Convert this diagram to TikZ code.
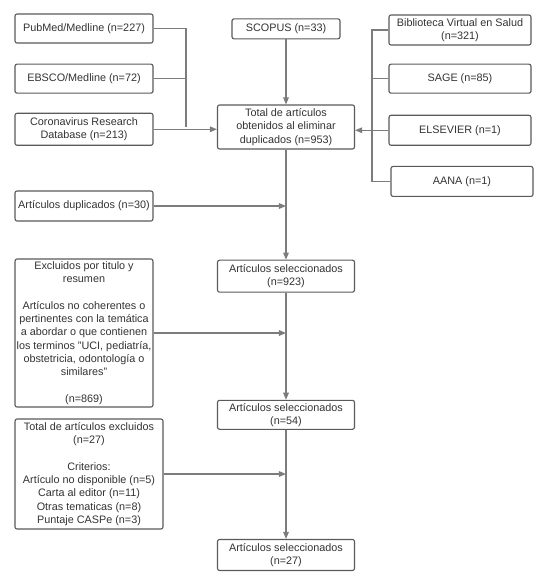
\documentclass[tikz,border=0pt]{standalone}
\usepackage{fontspec}
\setmainfont{Liberation Sans}
\usepackage{xcolor}
\usetikzlibrary{arrows.meta, positioning}
\definecolor{boxline}{HTML}{5A5A5A}
\definecolor{arrline}{HTML}{7C7C7C}
\definecolor{txtcol}{HTML}{333333}

\begin{document}
\begin{tikzpicture}[
    x=0.025cm, y=-0.025cm,
    font=\fontsize{7.7pt}{9.45pt}\selectfont,
    base/.style={draw=boxline, line width=0.8pt, align=center, fill=white, text=txtcol, inner sep=1pt},
    proc/.style={base, rectangle, rounded corners=1.5pt, minimum width=3.45cm, minimum height=0.74cm},
    mainbox/.style={proc, minimum width=3.425cm, minimum height=0.8cm},
    srcbox/.style={proc, minimum width=3.55cm, minimum height=0.74cm},
    link/.style={draw=arrline, line width=0.8pt},
    arr/.style={link, -{Triangle[length=5pt, width=4pt]}}
]
\useasboundingbox (0,0) rectangle (540,572);

% 1. Main column
\node[mainbox, minimum height=1.1cm] (total) at (286,127) {Total de artículos\\obtenidos al eliminar\\duplicados (n=953)};
\node[mainbox, above=1.625cm of total, minimum width=2.7cm, minimum height=0.5cm] (scopus) {SCOPUS (n=33)};
\node[mainbox, below=2.75cm of total] (sel1) {Artículos seleccionados\\(n=923)};
\node[mainbox, below=2.675cm of sel1, minimum height=0.725cm] (sel2) {Artículos seleccionados\\(n=54)};
\node[mainbox, below=2.725cm of sel2, minimum height=0.775cm] (sel3) {Artículos seleccionados\\(n=27)};

% 2. Left sources
\node[proc, minimum height=0.725cm] (pubmed) at (84,28.5) {PubMed/Medline (n=227)};
\node[proc, below=0.5cm of pubmed, minimum height=0.725cm] (ebsco) {EBSCO/Medline (n=72)};
\node[proc, below=0.475cm of ebsco, minimum height=0.8cm] (corona) {Coronavirus Research\\Database (n=213)};

% 3. Right sources
\node[srcbox, minimum height=0.75cm] (bvs) at (460,30) {Biblioteca Virtual en Salud\\(n=321)};
\node[srcbox, below=0.45cm of bvs, minimum height=0.725cm] (sage) {SAGE (n=85)};
\node[srcbox, below=0.525cm of sage, minimum height=0.75cm] (elsevier) {ELSEVIER (n=1)};
\node[srcbox, below=0.5cm of elsevier, xshift=0.05cm, minimum height=0.75cm] (aana) {AANA (n=1)};

% 4. Exclusions
\node[proc, minimum height=0.75cm] (dup) at (84,206) {Artículos duplicados (n=30)};
\node[proc, minimum height=3.7cm] (excl) at (84,333) {Excluidos por titulo y\\resumen\\[9.45pt]
    Artículos no coherentes o\\pertinentes con la temática\\a abordar o que contienen\\los terminos "UCI, pediatría,\\obstetricia, odontología o\\similares"\\[9.45pt](n=869)};
\node[proc, minimum width=3.7cm, minimum height=2.75cm] (totexcl) at (89,474) {Total de artículos excluidos\\(n=27)\\[9.45pt]
    Criterios:\\Artículo no disponible (n=5)\\Carta al editor (n=11)\\Otras tematicas (n=8)\\Puntaje CASPe (n=3)};

% Junctions
\coordinate (jl) at (186,127);
\coordinate (jr) at (372,128);

% Connections / Arrows
\draw[link] (pubmed.east) -| (jl);
\draw[link] (ebsco.east) -- (ebsco.east -| jl);
\draw[arr] (corona.east) -- (corona.east -| total.west);

\draw[link] (bvs.west) -| (aana.west -| jr) -- (aana.west);
\draw[link] (sage.west) -- (sage.west -| jr);
\draw[arr] (elsevier.west) -- (elsevier.west -| total.east);

\draw[arr] (scopus) -- (total);
\draw[arr] (total) -- (sel1);
\draw[arr] (sel1) -- (sel2);
\draw[arr] (sel2) -- (sel3);

\draw[arr] (dup.east) -- (dup.east -| total.south);
\draw[arr] (excl.east) -- (excl.east -| sel1.south);
\draw[arr] (totexcl.east) -- (totexcl.east -| sel2.south);

\end{tikzpicture}
\end{document}
